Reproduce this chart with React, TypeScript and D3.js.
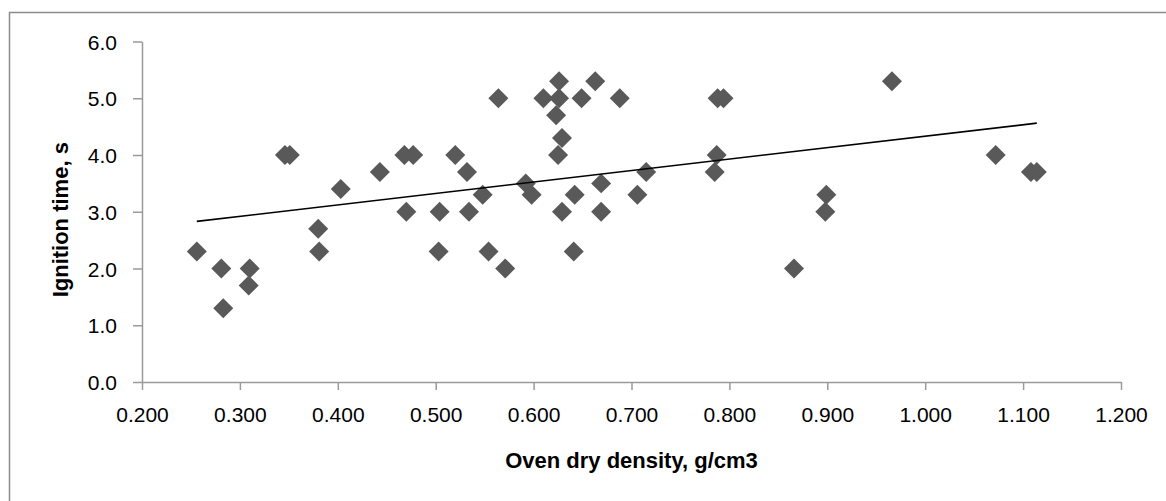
import React, { useRef, useEffect } from 'react';
import * as d3 from 'd3';

// oven dry density (g/cm3) and ignition time (s)
const density = [
  0.256, 0.281, 0.283, 0.31, 0.309, 0.346, 0.351, 0.38, 0.381, 0.403,
  0.443, 0.468, 0.477, 0.47, 0.52, 0.532, 0.504, 0.534, 0.548, 0.503,
  0.554, 0.571, 0.564, 0.592, 0.598, 0.61, 0.626, 0.626, 0.623, 0.629,
  0.625, 0.629, 0.641, 0.642, 0.649, 0.663, 0.669, 0.669, 0.688, 0.715,
  0.706, 0.788, 0.794, 0.787, 0.785, 0.899, 0.898, 0.866, 0.966, 1.072,
  1.108, 1.114,
];
const ignitionTime = [
  2.3, 2.0, 1.3, 2.0, 1.7, 4.0, 4.0, 2.7, 2.3, 3.4,
  3.7, 4.0, 4.0, 3.0, 4.0, 3.7, 3.0, 3.0, 3.3, 2.3,
  2.3, 2.0, 5.0, 3.5, 3.3, 5.0, 5.3, 5.0, 4.7, 4.3,
  4.0, 3.0, 2.3, 3.3, 5.0, 5.3, 3.5, 3.0, 5.0, 3.7,
  3.3, 5.0, 5.0, 4.0, 3.7, 3.3, 3.0, 2.0, 5.3, 4.0,
  3.7, 3.7,
];
const xTicks = [0.2, 0.3, 0.4, 0.5, 0.6, 0.7, 0.8, 0.9, 1.0, 1.1, 1.2];
const yTicks = [0, 1, 2, 3, 4, 5, 6];

const xTitle = 'Oven dry density, g/cm3';
const yTitle = 'Ignition time, s';

const FONT = '"Liberation Sans", Arial, sans-serif';

const App = () => {
  const svgRef = useRef(null);

  useEffect(() => {
    const svg = d3.select(svgRef.current);
    svg.selectAll('*').remove();

    const width = 1166;
    const height = 501;
    const plot = { left: 142, right: 1121, top: 41.5, bottom: 382 };

    const xScale = d3.scaleLinear().domain([0.2, 1.2]).range([plot.left, plot.right]);
    const yScale = d3.scaleLinear().domain([0, 6]).range([plot.bottom, plot.top]);

    // outer chart frame (runs off the right and bottom of the page)
    svg
      .append('rect')
      .attr('x', 9.5)
      .attr('y', 12.5)
      .attr('width', width + 20)
      .attr('height', height + 20)
      .attr('fill', '#fff')
      .attr('stroke', '#8c8c8c')
      .attr('stroke-width', 1.5);

    const points = density.map((d, i) => ({ x: d, y: ignitionTime[i] }));

    // x axis
    const xAxis = svg
      .append('g')
      .attr('transform', `translate(0, ${plot.bottom})`)
      .call(
        d3.axisBottom(xScale).tickValues(xTicks).tickFormat(d3.format('.3f')).tickSize(8).tickSizeOuter(0).tickPadding(17)
      );

    // y axis
    const yAxis = svg
      .append('g')
      .attr('transform', `translate(${plot.left}, 0)`)
      .call(
        d3.axisLeft(yScale).tickValues(yTicks).tickFormat(d3.format('.1f')).tickSize(9).tickSizeOuter(0).tickPadding(16)
      );

    [xAxis, yAxis].forEach(g => {
      g.select('.domain').attr('stroke', '#9a9a9a').attr('stroke-width', 1.5);
      g.selectAll('.tick line').attr('stroke', '#9a9a9a').attr('stroke-width', 1.5);
      g.selectAll('.tick text')
        .attr('fill', '#000')
        .style('font-family', FONT)
        .style('font-size', '21px');
    });
    yAxis.selectAll('.tick text').attr('dy', '0.36em');

    // least-squares trendline across the data range
    const mx = d3.mean(points, d => d.x);
    const my = d3.mean(points, d => d.y);
    const slope =
      d3.sum(points, d => (d.x - mx) * (d.y - my)) / d3.sum(points, d => (d.x - mx) * (d.x - mx));
    const intercept = my - slope * mx;
    const [x0, x1] = d3.extent(points, d => d.x);
    const line = d3
      .line()
      .x(d => xScale(d[0]))
      .y(d => yScale(d[1]));

    // markers: gray diamonds
    const diamond = d3.symbol().type(d3.symbolSquare).size(200);
    svg
      .selectAll('.pt')
      .data(points)
      .enter()
      .append('path')
      .attr('class', 'pt')
      .attr('d', diamond)
      .attr('transform', d => `translate(${xScale(d.x)}, ${yScale(d.y)}) rotate(45)`)
      .attr('fill', '#595959');

    svg
      .append('path')
      .attr('d', line([[x0, intercept + slope * x0], [x1, intercept + slope * x1]]))
      .attr('fill', 'none')
      .attr('stroke', '#000')
      .attr('stroke-width', 1.6);

    // axis titles
    svg
      .append('text')
      .attr('x', (plot.left + plot.right) / 2)
      .attr('y', 468)
      .attr('text-anchor', 'middle')
      .attr('fill', '#000')
      .style('font-family', FONT)
      .style('font-size', '22px')
      .style('font-weight', 'bold')
      .text(xTitle);

    svg
      .append('text')
      .attr('transform', `translate(68, ${(plot.top + plot.bottom) / 2 + 8}) rotate(-90)`)
      .attr('text-anchor', 'middle')
      .attr('fill', '#000')
      .style('font-family', FONT)
      .style('font-size', '22px')
      .style('font-weight', 'bold')
      .text(yTitle);
  }, []);

  return (
    <svg
      ref={svgRef}
      width={1166}
      height={501}
      style={{ position: 'absolute', left: 0, top: 0, display: 'block', background: '#fff' }}
    />
  );
};

export default App;
